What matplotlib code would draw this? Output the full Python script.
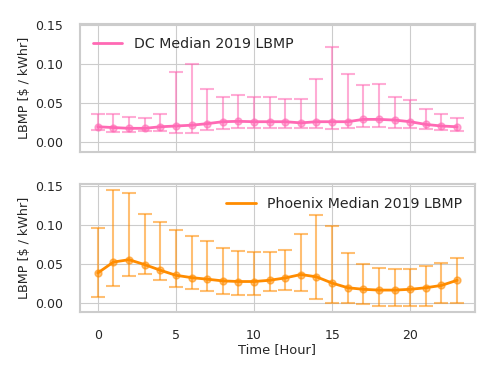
import numpy as np
import matplotlib
matplotlib.use('Agg')
import matplotlib.pyplot as plt
import seaborn as sns

# Hourly medians and spread
hours = list(range(24))

dc_median = [0.020, 0.019, 0.018, 0.018, 0.020, 0.021, 0.022, 0.024, 0.0265, 0.027, 0.0265, 0.0265,
             0.0265, 0.025, 0.0265, 0.0265, 0.0265, 0.0295, 0.0295, 0.0286, 0.0265, 0.023, 0.021, 0.020]
dc_low = [0.0158, 0.0137, 0.0137, 0.0145, 0.0145, 0.0124, 0.0124, 0.0158, 0.017, 0.018, 0.019, 0.019,
          0.019, 0.019, 0.018, 0.017, 0.018, 0.020, 0.020, 0.019, 0.018, 0.0167, 0.016, 0.015]
dc_high = [0.0363, 0.036, 0.033, 0.0316, 0.036, 0.0897, 0.100, 0.068, 0.0585, 0.0607, 0.0577, 0.0577,
           0.0556, 0.0556, 0.0808, 0.1226, 0.0876, 0.0735, 0.0748, 0.0585, 0.0543, 0.0423, 0.0363, 0.0316]

phx_median = [0.038, 0.052, 0.055, 0.0487, 0.0415, 0.035, 0.032, 0.030, 0.0278, 0.027, 0.027, 0.0286,
              0.0316, 0.036, 0.033, 0.025, 0.019, 0.017, 0.016, 0.016, 0.017, 0.019, 0.022, 0.0286]
phx_low = [0.0073, 0.0214, 0.0338, 0.0363, 0.0286, 0.020, 0.017, 0.015, 0.0115, 0.0094, 0.0094, 0.0145,
           0.0167, 0.0145, 0.005, 0.0, 0.0, -0.002, -0.004, -0.005, -0.004, -0.005, 0.0, 0.0]
phx_high = [0.0957, 0.144, 0.1406, 0.114, 0.103, 0.0927, 0.085, 0.0786, 0.0697, 0.0662, 0.065, 0.0645,
            0.068, 0.0885, 0.113, 0.098, 0.064, 0.049, 0.0444, 0.0427, 0.0436, 0.0466, 0.051, 0.057]

sns.set_style('whitegrid')
plt.rcParams['font.family'] = ['DejaVu Sans']

fig, axes = plt.subplots(2, 1, figsize=(4.99, 3.74), dpi=100, sharex=True)

series = [
    (dc_median, dc_low, dc_high, 'hotpink', 'DC Median 2019 LBMP', 'upper left'),
    (phx_median, phx_low, phx_high, 'darkorange', 'Phoenix Median 2019 LBMP', 'upper right'),
]

for ax, (med, low, high, color, label, loc) in zip(axes, series):
    med = np.array(med)
    yerr = [med - np.array(low), np.array(high) - med]
    ax.errorbar(hours, med, yerr=yerr, fmt='o', color=color, alpha=0.55,
                capsize=5, markersize=5, elinewidth=1.5, capthick=1.5)
    ax.plot(hours, med, color=color, linewidth=2, label=label)
    ax.set_ylim(-0.0125, 0.152)
    ax.set_yticks([0.0, 0.05, 0.1, 0.15])
    ax.set_ylabel('LBMP [\\$ / kWhr]', fontsize=9.2, color='#262626', labelpad=3)
    ax.tick_params(labelsize=9, colors='#262626', length=0, pad=12)
    ax.legend(loc=loc, frameon=False, fontsize=10.2, handlelength=2.1)
    for s in ax.spines.values():
        s.set_color('#cccccc')
        s.set_linewidth(1.5)

axes[1].set_xticks([0, 5, 10, 15, 20])
axes[1].set_xlabel('Time [Hour]', fontsize=9.4, color='#262626', labelpad=1)

fig.subplots_adjust(left=0.16, right=0.952, top=0.936, bottom=0.165, hspace=0.25)
fig.savefig('out.png', dpi=100)
